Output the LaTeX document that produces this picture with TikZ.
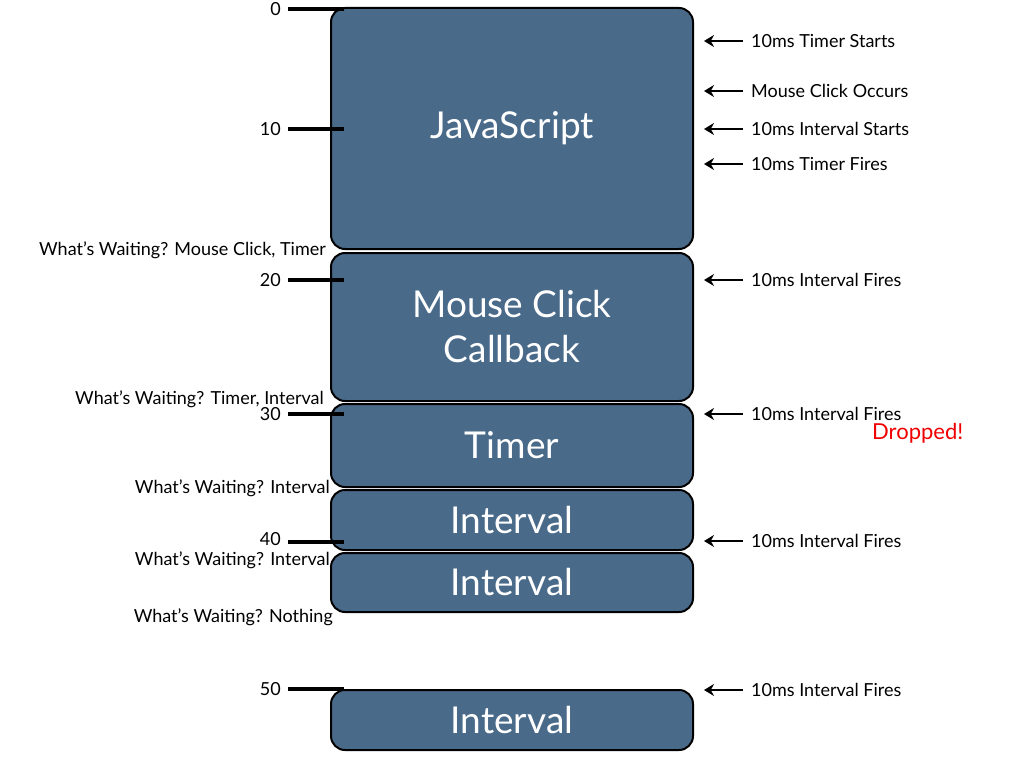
\documentclass[tikz,border=0pt]{standalone}
\usepackage{fontspec}
\setmainfont{Lato}
\usetikzlibrary{arrows.meta}
\definecolor{boxblue}{RGB}{74,106,138}
\definecolor{dropred}{RGB}{240,0,0}
\tikzset{
  blk/.style={draw=black, line width=2pt, fill=boxblue, rounded corners=14pt,
    minimum width=362pt, text=white, font=\fontsize{37}{45}\selectfont, align=center, inner sep=0pt},
  tick/.style={line width=4pt, black},
  ticklbl/.style={anchor=east, font=\fontsize{18}{20}\selectfont, inner sep=0pt},
  evt/.style={anchor=west, font=\fontsize{18}{20}\selectfont, inner sep=0pt},
  evtarrow/.style={line width=2.8pt, -{Stealth[length=10pt,width=12pt]}},
  wait/.style={anchor=east, font=\fontsize{18}{20}\selectfont, inner sep=0pt},
}
\begin{document}
\begin{tikzpicture}[x=1pt,y=-1pt]
\useasboundingbox (0,0) rectangle (1024,768);
% boxes
\node[blk, minimum height=241pt] (js) at (512,128.5) {JavaScript};
\node[blk, minimum height=148pt] (mc) at (512,327) {Mouse Click\\Callback};
\node[blk, minimum height=83pt] (tm) at (512,445.5) {Timer};
\node[blk, minimum height=60pt] (iv1) at (512,520) {Interval};
\node[blk, minimum height=59pt] (iv2) at (512,582.5) {Interval};
\node[blk, minimum height=60pt] (iv3) at (512,720) {Interval};
% ticks
\foreach \n/\y/\ly in {0/9/9,10/129/129,20/280/280,30/414/414,40/542/539,50/689/689}{
  \coordinate (ts\n) at (288,\y);
  \coordinate (te\n) at (344,\y);
  \draw[tick] (ts\n) -- (te\n);
  \node[ticklbl] (tl\n) at (281,\ly) {\n};
}
% events
\foreach \i/\y/\t in {a/41/10ms Timer Starts, b/91/Mouse Click Occurs, c/129/10ms Interval Starts, d/164/10ms Timer Fires, e/280/10ms Interval Fires, f/414/10ms Interval Fires, g/541/10ms Interval Fires, h/690/10ms Interval Fires}{
  \node[evt] (ev\i) at (751,\y) {\t};
  \coordinate (ea\i) at (704,\y);
  \draw[evtarrow] (ev\i.west) ++(-8,0) coordinate (eb\i) -- (ea\i);
}
\node[anchor=west, text=dropred, font=\fontsize{22}{24}\selectfont, inner sep=0pt] (drop) at (872,433) {Dropped!};
% waiting labels
\node[wait] (w1) at (326,250) {What’s Waiting? Mouse Click, Timer};
\node[wait] (w2) at (324,399) {What’s Waiting? Timer, Interval};
\node[wait] (w3) at (330,488) {What’s Waiting? Interval};
\node[wait] (w4) at (330,560) {What’s Waiting? Interval};
\node[wait] (w5) at (333,617) {What’s Waiting? Nothing};
\end{tikzpicture}
\end{document}
